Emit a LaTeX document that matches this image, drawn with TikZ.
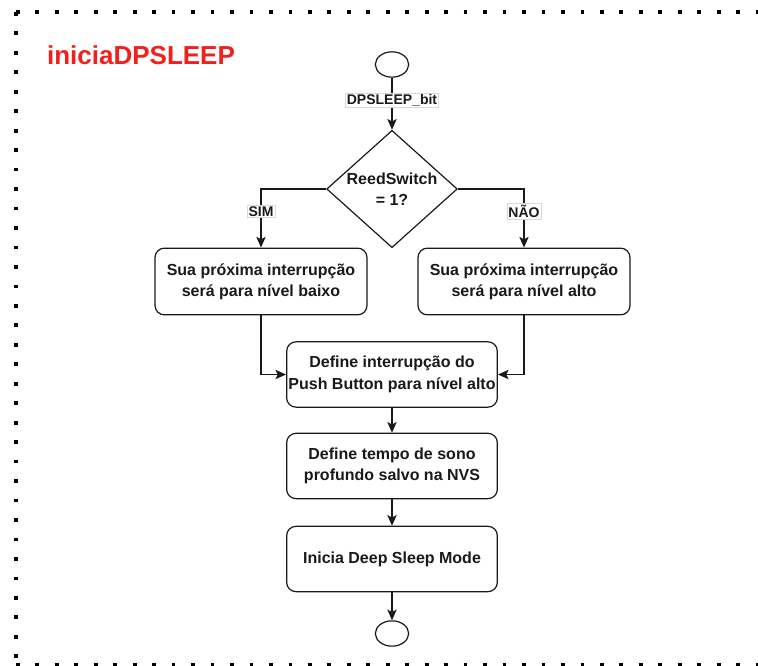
\documentclass[tikz,border=0pt]{standalone}
\usepackage{fontspec}
\setmainfont{Liberation Sans}
\usepackage{pgf, tikz}
\usetikzlibrary{positioning}
\usetikzlibrary{arrows.meta,shapes.geometric}

\definecolor{titlered}{RGB}{240,32,28}
\definecolor{ink}{RGB}{25,25,25}

\tikzset{
	txt/.style={font=\fontsize{12pt}{16pt}\selectfont\bfseries, text=ink, align=center},
	box/.style={txt, draw=ink, line width=0.9pt, rounded corners=7pt, inner xsep=1pt, minimum width=158pt, minimum height=49pt},
	decision/.style={txt, draw=ink, line width=0.9pt, shape=diamond, aspect=1.1, inner sep=-1.5pt, minimum width=98pt, minimum height=88pt},
	terminal/.style={draw=ink, line width=0.9pt, shape=ellipse, minimum width=25pt, minimum height=19pt, inner sep=0pt},
	edgelabel/.style={font=\fontsize{10.5pt}{12pt}\selectfont\bfseries, text=ink, fill=white, draw=black!15, line width=0.4pt, inner sep=1pt},
	arrow/.style={draw=ink, line width=0.9pt, -{Stealth[length=8pt, width=7pt, inset=1.8pt]}},
	dotborder/.style={line width=2.8pt, dash pattern=on 2.8pt off 11.8pt}
}

\begin{document}
\begin{tikzpicture}[x=0.75pt, y=-0.75pt]
		\useasboundingbox (0,0) rectangle (758,666);
		
		\draw[dotborder] (16,12) -- (16,665);
		\draw[dotborder] (16,12) -- (780,12);
		\draw[dotborder] (16,665) -- (780,665);
		
		\node (title) at (141,55) {\fontsize{19.5pt}{24pt}\selectfont\bfseries\color{titlered} iniciaDPSLEEP};
		
		\node[terminal] (start) at (392,64.5) {};
		\node[decision] (dec) at (392,189) {ReedSwitch\\= 1?};
		\node[box, minimum width=159pt, minimum height=50pt] (baixo) at (261,281.5) {Sua próxima interrupção\\será para nível baixo};
		\node[box, minimum width=159pt, minimum height=50pt] (alto) at (524,281.5) {Sua próxima interrupção\\será para nível alto};
		\node[box] (intr) at (392,374.5) {Define interrupção do\\Push Button para nível alto};
		\node[box] (sono) at (392,466) {Define tempo de sono\\profundo salvo na NVS};
		\node[box] (deep) at (392,559) {Inicia Deep Sleep Mode};
		\node[terminal] (fim) at (392,633.5) {};
		
		\draw[arrow] (start) -- node[edgelabel, pos=0.43] {DPSLEEP\_bit} (dec);
		\draw[arrow] (dec) -| node[edgelabel, pos=0.69] {SIM} (baixo);
		\draw[arrow] (dec) -| node[edgelabel, pos=0.69] {NÃO} (alto);
		\draw[arrow] (baixo) |- (intr);
		\draw[arrow] (alto) |- (intr);
		\draw[arrow] (intr) -- (sono);
		\draw[arrow] (sono) -- (deep);
		\draw[arrow] (deep) -- (fim);
	\end{tikzpicture}
\end{document}
